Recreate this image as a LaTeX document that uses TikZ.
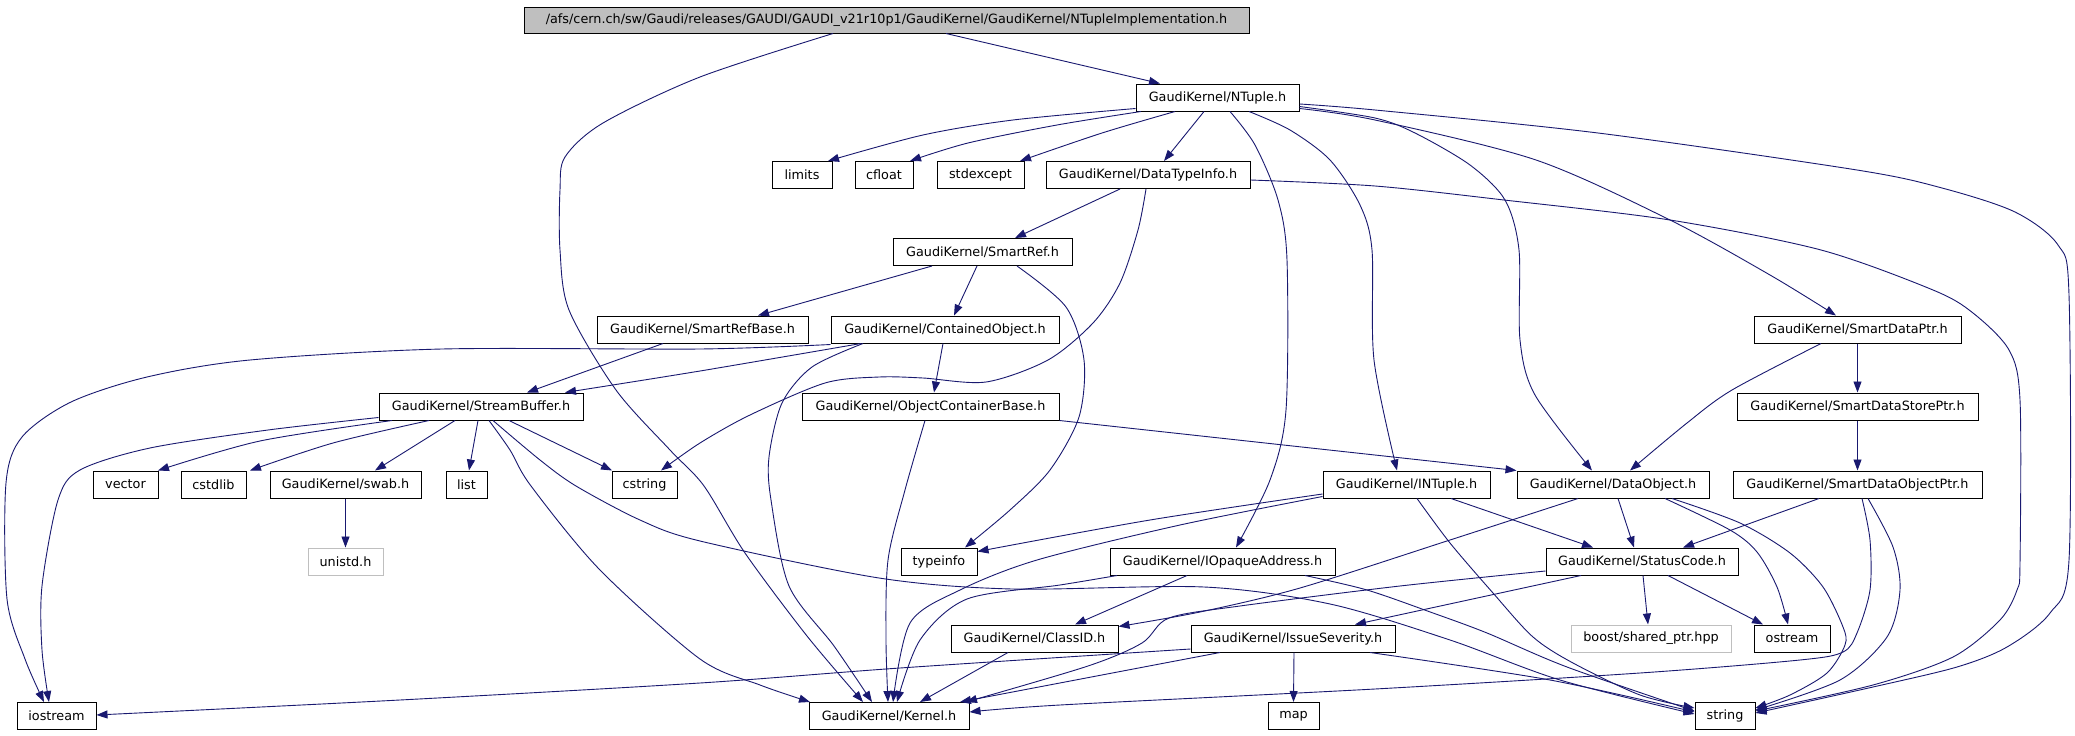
\documentclass[tikz,border=0pt]{standalone}
\usepackage{fontspec}
\setmainfont{DejaVu Sans}
\usetikzlibrary{arrows.meta}
\definecolor{edgec}{RGB}{25,25,112}
\definecolor{rootfill}{RGB}{191,191,191}
\begin{document}
\begin{tikzpicture}[x=1pt,y=-1pt,
  box/.style={draw=black, line width=1pt, minimum height=27pt, inner sep=0pt, font=\fontsize{12.8pt}{14pt}\selectfont, anchor=center},
  ext/.style={box, draw=rootfill},
  e/.style={draw=edgec, line width=0.9pt, line join=round, -{Triangle[length=11pt,width=8pt]}}
]
\fill[white] (0,0) rectangle (2075,736);
\useasboundingbox (0,0) rectangle (2075,736);

% nodes
\node[box, fill=rootfill, minimum width=725pt, minimum height=26pt] (root) at (886.5,20) {/afs/cern.ch/sw/Gaudi/releases/GAUDI/GAUDI\_v21r10p1/GaudiKernel/GaudiKernel/NTupleImplementation.h};
\node[box, minimum width=163pt] (ntuple) at (1217.5,97.5) {GaudiKernel/NTuple.h};
\node[box, minimum width=60pt] (limits) at (802,175) {limits};
\node[box, minimum width=58pt] (cfloat) at (884,175) {cfloat};
\node[box, minimum width=87pt] (stdexcept) at (980.5,175) {stdexcept};
\node[box, minimum width=204pt] (dti) at (1148,175) {GaudiKernel/DataTypeInfo.h};
\node[box, minimum width=179pt] (smartref) at (982.5,252) {GaudiKernel/SmartRef.h};
\node[box, minimum width=211pt] (smartrefbase) at (702.5,329.5) {GaudiKernel/SmartRefBase.h};
\node[box, minimum width=228pt] (contained) at (945,329.5) {GaudiKernel/ContainedObject.h};
\node[box, minimum width=257pt] (objcont) at (930.5,406.5) {GaudiKernel/ObjectContainerBase.h};
\node[box, minimum width=204pt] (streambuf) at (481,406.5) {GaudiKernel/StreamBuffer.h};
\node[box, minimum width=65pt] (vector) at (125.5,484.5) {vector};
\node[box, minimum width=65pt] (cstdlib) at (213.5,484.5) {cstdlib};
\node[box, minimum width=151pt] (swab) at (345.5,484.5) {GaudiKernel/swab.h};
\node[box, minimum width=41pt] (list) at (466.5,484.5) {list};
\node[box, minimum width=65pt] (cstring) at (644.5,484.5) {cstring};
\node[ext, minimum width=75pt] (unistd) at (345.5,561.5) {unistd.h};
\node[box, minimum width=79pt] (iostream) at (56.5,716) {iostream};
\node[box, minimum width=160pt] (kernel) at (889,716) {GaudiKernel/Kernel.h};
\node[box, minimum width=76pt] (typeinfo) at (939,561.5) {typeinfo};
\node[box, minimum width=225pt] (iopaque) at (1222.5,561.5) {GaudiKernel/IOpaqueAddress.h};
\node[box, minimum width=167pt] (classid) at (1034.5,638.5) {GaudiKernel/ClassID.h};
\node[box, minimum width=204pt] (issue) at (1293,638.5) {GaudiKernel/IssueSeverity.h};
\node[box, minimum width=51pt] (map) at (1293.5,716) {map};
\node[box, minimum width=167pt] (intuple) at (1406.5,484.5) {GaudiKernel/INTuple.h};
\node[box, minimum width=192pt] (dataobj) at (1613,484.5) {GaudiKernel/DataObject.h};
\node[box, minimum width=249pt] (sdoptr) at (1857.5,484.5) {GaudiKernel/SmartDataObjectPtr.h};
\node[box, minimum width=207pt] (sdptr) at (1857.5,329.5) {GaudiKernel/SmartDataPtr.h};
\node[box, minimum width=241pt] (sdsptr) at (1857.5,406.5) {GaudiKernel/SmartDataStorePtr.h};
\node[box, minimum width=192pt] (status) at (1642,561.5) {GaudiKernel/StatusCode.h};
\node[ext, minimum width=160pt] (boost) at (1651,638.5) {boost/shared\_ptr.hpp};
\node[box, minimum width=76pt] (ostream) at (1792,638.5) {ostream};
\node[box, minimum width=60pt] (string) at (1725,716) {string};

% edges
\draw[e] ([xshift=59.5pt]root.south) -- ([xshift=-57.5pt]ntuple.north);
\draw[e] plot[smooth] coordinates {([xshift=-53.5pt]root.south) (700,77) (603,123) (565,157) (560,190) (560,250) (569,310) (616,390) (670,450) (704,486) (745,553) (807,636) ([xshift=-26pt]kernel.north)};
\draw[e] plot[smooth] coordinates {([yshift=3pt]ntuple.south west) (1013,120) (923,135) ([xshift=26pt]limits.north)};
\draw[e] plot[smooth] coordinates {([xshift=-76.5pt]ntuple.south) (1057,125) (968,143) ([xshift=26pt]cfloat.north)};
\draw[e] plot[smooth] coordinates {([xshift=-42.5pt]ntuple.south) (1102,133) ([xshift=39.5pt]stdexcept.north)};
\draw[e] ([xshift=-13.5pt]ntuple.south) -- ([xshift=16pt]dti.north);
\draw[e] plot[smooth] coordinates {([xshift=12.5pt]ntuple.south) (1255,145) (1278,200) (1287,260) (1286,410) (1270,480) ([xshift=13.5pt]iopaque.north)};
\draw[e] plot[smooth] coordinates {([xshift=31.5pt]ntuple.south) (1290,130) (1330,160) (1360,205) (1372,250) (1374,360) ([xshift=-9.5pt]intuple.north)};
\draw[e] plot[smooth] coordinates {([yshift=-9pt]ntuple.east) (1375,118) (1415,133) (1470,165) (1505,200) (1519,250) (1520,340) (1535,395) ([xshift=-21pt]dataobj.north)};
\draw[e] plot[smooth] coordinates {([yshift=-11pt]ntuple.east) (1375,120) (1536,160) (1670,220) (1770,275) ([xshift=-21.5pt]sdptr.north)};
\draw[e] plot[smooth] coordinates {([yshift=-6.5pt]ntuple.east) (1375,110) (1598,133) (1857,170) (1942,188) (2015,212) (2058,245) (2069,295) (2069,560) (2050,613) (2007,647) (1957,667) (1873,687) ([yshift=3pt]string.east)};
\draw[e] ([xshift=-28pt]dti.south) -- ([xshift=32.5pt]smartref.north);
\draw[e] plot[smooth] coordinates {([xshift=-2pt]dti.south) (1138,230) (1120,283) (1093,323) (1048,360) (986,382) (923,378) (879,377) (825,383) (750,415) (700,443) ([xshift=16.5pt]cstring.north)};
\draw[e] plot[smooth] coordinates {([yshift=-5pt]dti.east) (1375,186) (1504,200) (1670,220) (1821,250) (1933,290) (1973,313) (2009,350) (2020,400) (2020,563) (2017,590) (2000,620) (1953,657) (1873,685) ([yshift=5pt]string.east)};
\draw[e] ([xshift=-50.5pt]smartref.south) -- ([xshift=55.5pt]smartrefbase.north);
\draw[e] ([xshift=-5.5pt]smartref.south) -- ([xshift=9pt]contained.north);
\draw[e] plot[smooth] coordinates {([xshift=34.5pt]smartref.south) (1066,307) (1084,360) (1079,417) (1050,470) (1010,510) ([xshift=26pt]typeinfo.north)};
\draw[e] ([xshift=-39.5pt]smartrefbase.south) -- ([xshift=46pt]streambuf.north);
\draw[e] plot[smooth] coordinates {([xshift=-84pt]contained.south) (700,371) ([xshift=84pt]streambuf.north)};
\draw[e] plot[smooth] coordinates {([yshift=-1pt]contained.south west) (700,349) (442,349) (250,360) (147,377) (71,402) (22,437) (6,483) (7,599) (25,659) ([xshift=-12.5pt]iostream.north)};
\draw[e] ([xshift=-2pt]contained.south) -- ([xshift=3.5pt]objcont.north);
\draw[e] plot[smooth] coordinates {([xshift=-82pt]contained.south) (812,367) (782,403) (769,457) (771,500) (789,586) (834,646) ([xshift=-17pt]kernel.north)};
\draw[e] (objcont.south east) -- (dataobj.north west);
\draw[e] plot[smooth] coordinates {([xshift=-5.5pt]objcont.south) (905,490) (888,560) (886,640) ([xshift=-1pt]kernel.north)};
\draw[e] plot[smooth] coordinates {([xshift=-89pt]streambuf.south) (260,441) ([xshift=32.5pt]vector.north)};
\draw[e] plot[smooth] coordinates {([xshift=-52pt]streambuf.south) (333,443) ([xshift=36.5pt]cstdlib.north)};
\draw[e] ([xshift=-26pt]streambuf.south) -- ([xshift=29.5pt]swab.north);
\draw[e] ([xshift=-3pt]streambuf.south) -- ([xshift=2.5pt]list.north);
\draw[e] ([xshift=28pt]streambuf.south) -- ([xshift=-32.5pt]cstring.north);
\draw[e] plot[smooth] coordinates {([yshift=3pt]streambuf.south west) (268,430) (150,448) (80,470) (58,500) (42,586) (42,650) ([xshift=-7.5pt]iostream.north)};
\draw[e] plot[smooth] coordinates {([xshift=12pt]streambuf.south) (540,460) (576,486) (640,520) (700,541) (879,578) (1012,589) (1204,587) (1330,604) (1450,640) (1560,680) ([yshift=2pt]string.west)};
\draw[e] plot[smooth] coordinates {([xshift=8pt]streambuf.south) (510,450) (531,486) (600,570) (700,659) (760,685) ([xshift=-79pt]kernel.north)};
\draw[e] (swab.south) -- (unistd.north);
\draw[e] plot[smooth] coordinates {([yshift=-9.5pt]intuple.west) (1150,520) ([yshift=-4pt]typeinfo.north east)};
\draw[e] plot[smooth] coordinates {([yshift=-12pt]intuple.west) (1180,525) (1037,560) (960,590) (910,623) ([xshift=4pt]kernel.north)};
\draw[e] ([xshift=44.5pt]intuple.south) -- ([xshift=-49pt]status.north);
\draw[e] plot[smooth] coordinates {([xshift=10.5pt]intuple.south) (1450,543) (1493,593) (1533,637) (1573,663) (1640,695) ([yshift=8pt]string.west)};
\draw[e] ([xshift=-35.5pt]iopaque.south) -- ([xshift=40.5pt]classid.north);
\draw[e] plot[smooth] coordinates {([xshift=-105.5pt]iopaque.south) (1060,585) (967,599) (920,640) ([xshift=8pt]kernel.north)};
\draw[e] plot[smooth] coordinates {([xshift=82.5pt]iopaque.south) (1367,590) (1433,613) (1487,633) (1567,667) ([yshift=5pt]string.west)};
\draw[e] ([xshift=-26.5pt]classid.south) -- ([xshift=31pt]kernel.north);
\draw[e] plot[smooth] coordinates {([yshift=-10.5pt]issue.west) (900,668) (700,683) (400,700) ([yshift=1pt]iostream.east)};
\draw[e] ([xshift=-73pt]issue.south) -- ([xshift=71pt]kernel.north);
\draw[e] ([xshift=1pt]issue.south) -- (map.north);
\draw[e] plot[smooth] coordinates {([xshift=77pt]issue.south) (1550,680) ([yshift=4pt]string.west)};
\draw[e] ([xshift=-61pt]status.south) -- ([xshift=62pt]issue.north);
\draw[e] ([xshift=1pt]status.south) -- ([xshift=-3pt]boost.north);
\draw[e] ([xshift=26pt]status.south) -- ([xshift=-29pt]ostream.north);
\draw[e] plot[smooth] coordinates {([yshift=-9.5pt]status.west) (1400,586) (1240,606) (1169,618) (1142,643) (1088,666) ([xshift=77pt]kernel.north)};
\draw[e] plot[smooth] coordinates {([xshift=-35pt]dataobj.south) (1450,540) (1300,588) (1200,612) ([yshift=-2pt]classid.north east)};
\draw[e] ([xshift=5pt]dataobj.south) -- ([xshift=-8pt]status.north);
\draw[e] plot[smooth] coordinates {([xshift=52pt]dataobj.south) (1730,530) (1757,552) (1777,587) ([xshift=-4pt]ostream.north)};
\draw[e] plot[smooth] coordinates {([xshift=59pt]dataobj.south) (1740,523) (1790,553) (1823,587) (1843,627) (1845,645) (1827,673) (1790,695) ([yshift=8pt]string.east)};
\draw[e] plot[smooth] coordinates {([xshift=-36.5pt]sdptr.south) (1732,390) (1687,423) ([xshift=17pt]dataobj.north)};
\draw[e] (sdptr.south) -- (sdsptr.north);
\draw[e] (sdsptr.south) -- (sdoptr.north);
\draw[e] ([xshift=-38.5pt]sdoptr.south) -- ([xshift=41pt]status.north);
\draw[e] plot[smooth] coordinates {([xshift=10.5pt]sdoptr.south) (1893,547) (1900,590) (1887,637) (1840,680) ([yshift=6pt]string.east)};
\draw[e] plot[smooth] coordinates {([xshift=4.5pt]sdoptr.south) (1870,540) (1870,590) (1857,633) (1843,652) (1800,660) (1640,673) (1375,689) (1060,705) ([yshift=4pt]kernel.east)};
\end{tikzpicture}
\end{document}
